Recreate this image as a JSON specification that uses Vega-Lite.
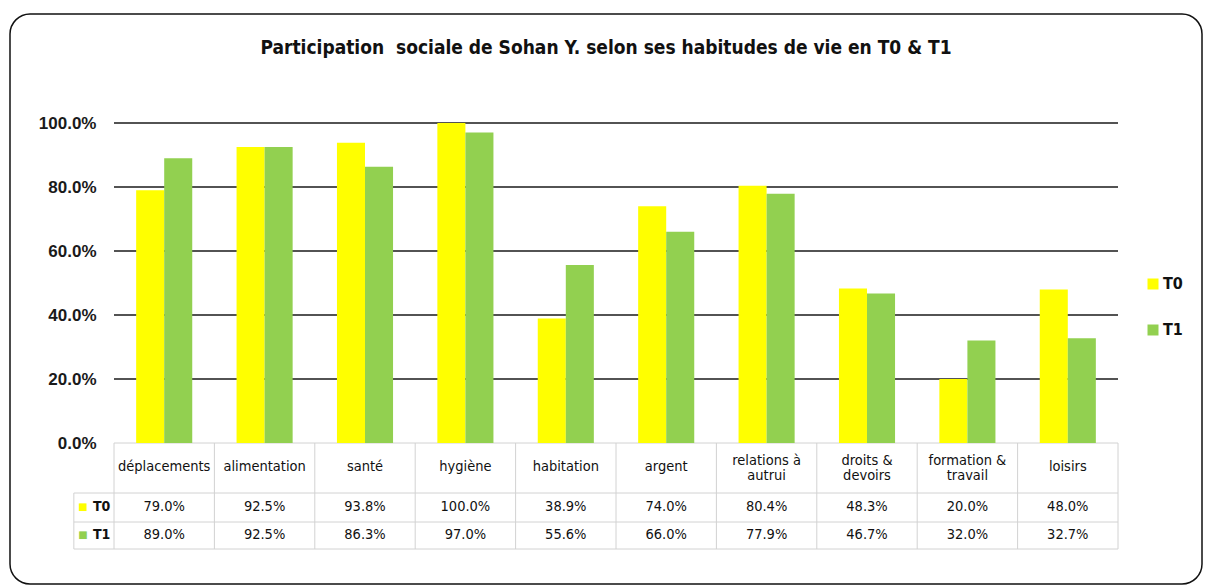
{
  "$schema": "https://vega.github.io/schema/vega-lite/v6.json",
  "width": 1192,
  "height": 570,
  "autosize": "none",
  "padding": {"left": 10, "top": 14, "right": 6, "bottom": 4},
  "background": "white",
  "config": {"view": {"stroke": "#111111", "strokeWidth": 1.5, "cornerRadius": 20, "fill": "white"}},
  "title": {
    "text": "Participation\u00a0 sociale de Sohan Y. selon ses habitudes de vie en T0 & T1",
    "anchor": "middle",
    "frame": "group",
    "offset": -44,
    "font": "DejaVu Sans Condensed, sans-serif",
    "fontSize": 19,
    "fontWeight": "bold",
    "color": "#111111"
  },
  "datasets": {
    "scores": [
      {"cat": "déplacements", "series": "T0", "value": 0.79},
      {"cat": "déplacements", "series": "T1", "value": 0.89},
      {"cat": "alimentation", "series": "T0", "value": 0.925},
      {"cat": "alimentation", "series": "T1", "value": 0.925},
      {"cat": "santé", "series": "T0", "value": 0.938},
      {"cat": "santé", "series": "T1", "value": 0.863},
      {"cat": "hygiène", "series": "T0", "value": 1.0},
      {"cat": "hygiène", "series": "T1", "value": 0.97},
      {"cat": "habitation", "series": "T0", "value": 0.389},
      {"cat": "habitation", "series": "T1", "value": 0.556},
      {"cat": "argent", "series": "T0", "value": 0.74},
      {"cat": "argent", "series": "T1", "value": 0.66},
      {"cat": "relations à\nautrui", "series": "T0", "value": 0.804},
      {"cat": "relations à\nautrui", "series": "T1", "value": 0.779},
      {"cat": "droits &\ndevoirs", "series": "T0", "value": 0.483},
      {"cat": "droits &\ndevoirs", "series": "T1", "value": 0.467},
      {"cat": "formation &\ntravail", "series": "T0", "value": 0.2},
      {"cat": "formation &\ntravail", "series": "T1", "value": 0.32},
      {"cat": "loisirs", "series": "T0", "value": 0.48},
      {"cat": "loisirs", "series": "T1", "value": 0.327}
    ],
    "grid": [{"tick": 0.2}, {"tick": 0.4}, {"tick": 0.6}, {"tick": 0.8}, {"tick": 1.0}]
  },
  "layer": [
    {
      "layer": [
        {
          "data": {"name": "grid"},
          "mark": {"type": "rule", "color": "#1a1a1a", "strokeWidth": 1.3},
          "encoding": {
            "x": {"datum": 0, "type": "quantitative", "scale": {"domain": [0, 10], "range": [104, 1108]}, "axis": null},
            "x2": {"datum": 10},
            "y": {"field": "tick", "type": "quantitative"}
          }
        },
        {
          "data": {"values": [{}]},
          "mark": {"type": "rule", "color": "#d2d2d2", "strokeWidth": 1},
          "encoding": {
            "x": {"datum": 0, "type": "quantitative", "axis": null},
            "x2": {"datum": 10},
            "y": {"datum": 0, "type": "quantitative"}
          }
        },
        {
          "data": {"values": [{}]},
          "mark": {"type": "rule", "color": "#d2d2d2", "strokeWidth": 1},
          "encoding": {
            "x": {"datum": -0.4, "type": "quantitative", "axis": null},
            "x2": {"datum": 10},
            "y": {"datum": -0.15625, "type": "quantitative"}
          }
        },
        {
          "data": {"values": [{}]},
          "mark": {"type": "rule", "color": "#d2d2d2", "strokeWidth": 1},
          "encoding": {
            "x": {"datum": -0.4, "type": "quantitative", "axis": null},
            "x2": {"datum": 10},
            "y": {"datum": -0.246875, "type": "quantitative"}
          }
        },
        {
          "data": {"values": [{}]},
          "mark": {"type": "rule", "color": "#d2d2d2", "strokeWidth": 1},
          "encoding": {
            "x": {"datum": -0.4, "type": "quantitative", "axis": null},
            "x2": {"datum": 10},
            "y": {"datum": -0.33125, "type": "quantitative"}
          }
        },
        {
          "data": {"values": [{}]},
          "mark": {"type": "rule", "color": "#d2d2d2", "strokeWidth": 1},
          "encoding": {
            "x": {"datum": -0.4, "type": "quantitative", "axis": null},
            "y": {"datum": -0.15625, "type": "quantitative"},
            "y2": {"datum": -0.33125}
          }
        }
      ]
    },
    {
      "data": {"name": "scores"},
      "layer": [
        {
          "mark": {"type": "bar"},
          "encoding": {
            "x": {
              "field": "cat", "type": "nominal", "sort": null,
              "scale": {"range": [104, 1108], "paddingInner": 0, "paddingOuter": 0},
              "axis": null
            },
            "xOffset": {"field": "series", "type": "nominal", "scale": {"paddingInner": 0, "paddingOuter": 0.79}},
            "y": {
              "field": "value", "type": "quantitative",
              "scale": {"domain": [0, 1], "range": [429, 109], "nice": false},
              "axis": {
                "title": null, "values": [0, 0.2, 0.4, 0.6, 0.8, 1], "format": ".1%",
                "offset": -104, "domain": false, "ticks": false, "grid": false,
                "labelPadding": 18, "labelAlign": "right", "labelFont": "Liberation Sans, Arial, sans-serif",
                "labelFontSize": 17, "labelFontWeight": "bold", "labelColor": "#1a1a1a"
              }
            },
            "color": {
              "field": "series", "type": "nominal",
              "scale": {"domain": ["T0", "T1"], "range": ["#ffff00", "#92d050"]},
              "legend": {
                "title": null, "orient": "none", "legendX": 1135, "legendY": 262,
                "symbolType": "square", "symbolSize": 121, "symbolStrokeWidth": 0,
                "labelFont": "DejaVu Sans Condensed, sans-serif",
                "labelFontSize": 16, "labelFontWeight": "bold", "labelColor": "#111111",
                "rowPadding": 30, "labelOffset": 2, "padding": 0
              }
            }
          }
        },
        {
          "transform": [{"filter": {"field": "series", "equal": "T0"}}],
          "mark": {"type": "rule", "color": "#d2d2d2", "strokeWidth": 1},
          "encoding": {
            "x": {"field": "cat", "type": "nominal", "sort": null, "bandPosition": 0, "axis": null},
            "y": {"datum": 0, "type": "quantitative"},
            "y2": {"datum": -0.33125}
          }
        },
        {
          "transform": [{"filter": {"field": "series", "equal": "T0"}}, {"filter": {"field": "cat", "equal": "loisirs"}}],
          "mark": {"type": "rule", "color": "#d2d2d2", "strokeWidth": 1},
          "encoding": {
            "x": {"field": "cat", "type": "nominal", "sort": null, "bandPosition": 1, "axis": null},
            "y": {"datum": 0, "type": "quantitative"},
            "y2": {"datum": -0.33125}
          }
        },
        {
          "transform": [
            {"filter": {"field": "series", "equal": "T0"}},
            {"filter": {"not": {"field": "cat", "oneOf": ["relations à\nautrui", "droits &\ndevoirs", "formation &\ntravail"]}}}
          ],
          "mark": {
            "type": "text", "baseline": "middle",
            "font": "DejaVu Sans Condensed, sans-serif",
            "fontSize": 14.5, "color": "#111111"
          },
          "encoding": {
            "x": {"field": "cat", "type": "nominal", "sort": null, "axis": null},
            "y": {"datum": -0.075, "type": "quantitative"},
            "text": {"field": "cat"}
          }
        },
        {
          "transform": [
            {"filter": {"field": "series", "equal": "T0"}},
            {"filter": {"field": "cat", "oneOf": ["relations à\nautrui", "droits &\ndevoirs", "formation &\ntravail"]}}
          ],
          "mark": {
            "type": "text", "lineBreak": "\n", "lineHeight": 15, "baseline": "middle",
            "font": "DejaVu Sans Condensed, sans-serif",
            "fontSize": 14.5, "color": "#111111"
          },
          "encoding": {
            "x": {"field": "cat", "type": "nominal", "sort": null, "axis": null},
            "y": {"datum": -0.055, "type": "quantitative"},
            "text": {"field": "cat"}
          }
        },
        {
          "transform": [{"filter": {"field": "series", "equal": "T0"}}],
          "mark": {
            "type": "text", "baseline": "middle",
            "font": "DejaVu Sans Condensed, sans-serif",
            "fontSize": 14.5, "color": "#111111"
          },
          "encoding": {
            "x": {"field": "cat", "type": "nominal", "sort": null, "axis": null},
            "y": {"datum": -0.2, "type": "quantitative"},
            "text": {"field": "value", "format": ".1%"}
          }
        },
        {
          "transform": [{"filter": {"field": "series", "equal": "T1"}}],
          "mark": {
            "type": "text", "baseline": "middle",
            "font": "DejaVu Sans Condensed, sans-serif",
            "fontSize": 14.5, "color": "#111111"
          },
          "encoding": {
            "x": {"field": "cat", "type": "nominal", "sort": null, "axis": null},
            "y": {"datum": -0.2875, "type": "quantitative"},
            "text": {"field": "value", "format": ".1%"}
          }
        },
        {
          "transform": [{"filter": {"field": "series", "equal": "T0"}}, {"filter": {"field": "cat", "equal": "déplacements"}}],
          "encoding": {
            "x": {"field": "cat", "type": "nominal", "sort": null, "bandPosition": 0, "axis": null},
            "y": {"datum": -0.2, "type": "quantitative"}
          },
          "layer": [
            {
              "mark": {"type": "text", "baseline": "middle", "align": "center", "dx": -31, "fontSize": 10, "font": "DejaVu Sans"},
              "encoding": {"text": {"value": "■"}, "color": {"field": "series", "type": "nominal", "legend": null}}
            },
            {
              "mark": {
                "type": "text", "baseline": "middle", "align": "left", "dx": -21,
                "font": "DejaVu Sans Condensed, sans-serif",
                "fontSize": 14, "fontWeight": "bold", "color": "#111111"
              },
              "encoding": {"text": {"field": "series"}}
            }
          ]
        },
        {
          "transform": [{"filter": {"field": "series", "equal": "T1"}}, {"filter": {"field": "cat", "equal": "déplacements"}}],
          "encoding": {
            "x": {"field": "cat", "type": "nominal", "sort": null, "bandPosition": 0, "axis": null},
            "y": {"datum": -0.2875, "type": "quantitative"}
          },
          "layer": [
            {
              "mark": {"type": "text", "baseline": "middle", "align": "center", "dx": -31, "fontSize": 10, "font": "DejaVu Sans"},
              "encoding": {"text": {"value": "■"}, "color": {"field": "series", "type": "nominal", "legend": null}}
            },
            {
              "mark": {
                "type": "text", "baseline": "middle", "align": "left", "dx": -21,
                "font": "DejaVu Sans Condensed, sans-serif",
                "fontSize": 14, "fontWeight": "bold", "color": "#111111"
              },
              "encoding": {"text": {"field": "series"}}
            }
          ]
        }
      ]
    }
  ],
  "resolve": {"scale": {"x": "independent"}}
}
